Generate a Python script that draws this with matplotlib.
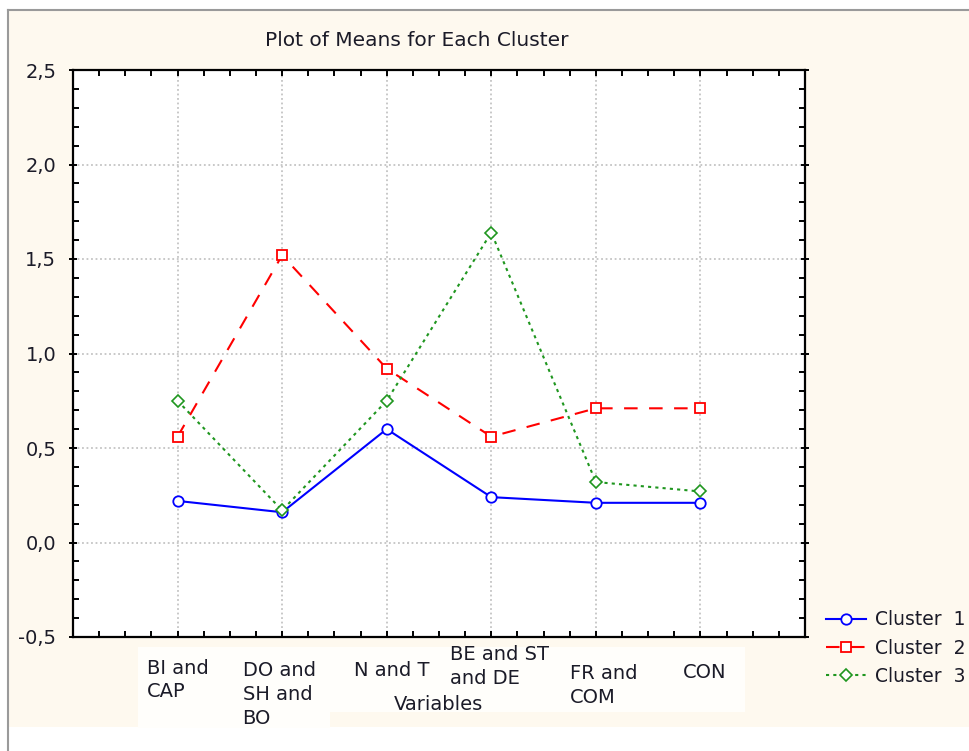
import matplotlib
matplotlib.use("Agg")
import matplotlib.pyplot as plt
from matplotlib.patches import Rectangle
from matplotlib.lines import Line2D
from matplotlib.ticker import MultipleLocator, FuncFormatter

# cluster means per variable group
variables = ["BI and\nCAP", "DO and\nSH and\nBO", "N and T", "BE and ST\nand DE", "FR and\nCOM", "CON"]
cluster1 = [0.22, 0.16, 0.60, 0.24, 0.21, 0.21]
cluster2 = [0.56, 1.52, 0.92, 0.56, 0.71, 0.71]
cluster3 = [0.75, 0.17, 0.75, 1.64, 0.32, 0.27]
series_names = ["Cluster  1", "Cluster  2", "Cluster  3"]

# per-label nudges (points) for the category labels under the axis
label_dx = [0.0, -2.2, 3.6, 5.8, 5.4, 3.2]
label_dy = [-30.8, -41.4, -23.8, -21.2, -34.9, -25.9]

W, H = 969, 751
fig = plt.figure(figsize=(W / 100, H / 100), dpi=100, facecolor="white")

# cream panel with grey frame on top and left
bg = [
    ((9, 11, W, 727), "#fef9ef"),
    ((138, 647, 745, 712), "#fffefb"),
    ((138, 712, 330, 728), "#fffefb"),
]
for (x0, y0, x1, y1), c in bg:
    fig.patches.append(Rectangle((x0 / W, 1 - y1 / H), (x1 - x0) / W, (y1 - y0) / H,
                                 transform=fig.transFigure, facecolor=c,
                                 edgecolor="none", zorder=-10))
fig.lines.append(Line2D([8 / W, 1], [1 - 10 / H, 1 - 10 / H], transform=fig.transFigure,
                        color="#9a9a9a", lw=1.5, zorder=-5))
fig.lines.append(Line2D([8 / W, 8 / W], [0, 1 - 10 / H], transform=fig.transFigure,
                        color="#9a9a9a", lw=1.5, zorder=-5))

ax = fig.add_axes([73 / W, 1 - 637 / H, (805 - 73) / W, (637 - 70) / H])
ax.set_facecolor("white")

x = list(range(1, len(variables) + 1))
ax.plot(x, cluster1, color="#0000ff", lw=1.5, marker="o", ms=7.5, mfc="white",
        mec="#0000ff", mew=1.3, label=series_names[0], zorder=3)
ax.plot(x, cluster2, color="#ff0000", lw=1.5, ls=(0, (6.5, 5.5)), marker="s", ms=7.5,
        mfc="white", mec="#ff0000", mew=1.3, label=series_names[1], zorder=3)
ax.plot(x, cluster3, color="#1f961f", lw=1.5, ls=(0, (1.5, 2)), marker="D", ms=6,
        mfc="white", mec="#1f961f", mew=1.2, label=series_names[2], zorder=3)

ax.set_xlim(0, 7)
ax.set_ylim(-0.5, 2.5)
ax.xaxis.set_major_locator(MultipleLocator(1))
ax.xaxis.set_minor_locator(MultipleLocator(0.25))
ax.yaxis.set_major_locator(MultipleLocator(0.5))
ax.yaxis.set_minor_locator(MultipleLocator(0.1))
ax.yaxis.set_major_formatter(FuncFormatter(lambda v, p: f"{v:.1f}".replace(".", ",")))
ax.set_xticklabels([])

ax.grid(True, which="major", color="#c4c4c4", ls=(0, (1, 1.5)), lw=1.3)
# no grid at the plot edges
for gl, pos in zip(ax.get_xgridlines(), ax.get_xticks()):
    if pos <= 0 or pos >= 7:
        gl.set_visible(False)

for s in ax.spines.values():
    s.set_linewidth(1.6)
    s.set_color("black")

ax.tick_params(which="both", direction="in", top=True, right=True, width=1.4, color="black")
ax.tick_params(which="major", length=4)
ax.tick_params(which="minor", length=4)
ax.tick_params(axis="y", which="major", direction="inout", length=6, pad=9,
               labelsize=14, labelcolor="#1b1b28")

for i, (lab, dx, dy) in enumerate(zip(variables, label_dx, label_dy)):
    ax.annotate(lab, xy=(x[i], 0), xycoords=ax.get_xaxis_transform(),
                xytext=(dx, dy), textcoords="offset points",
                ha="center", va="center", multialignment="left",
                fontsize=14, color="#1b1b28", linespacing=1.3, annotation_clip=False)

fig.text(417 / W, 1 - 41 / H, "Plot of Means for Each Cluster", ha="center", va="center",
         fontsize=14.5, color="#1b1b28")
fig.text(438 / W, 1 - 704 / H, "Variables", ha="center", va="center",
         fontsize=14, color="#1b1b28")

ax.legend(loc="center left", bbox_to_anchor=(817 / W, 1 - 648 / H),
          bbox_transform=fig.transFigure, frameon=False, fontsize=13.5,
          handlelength=2.1, handletextpad=0.5, labelspacing=0.5, borderpad=0,
          labelcolor="#1b1b28")

fig.savefig("out.png", dpi=100, facecolor="white")
